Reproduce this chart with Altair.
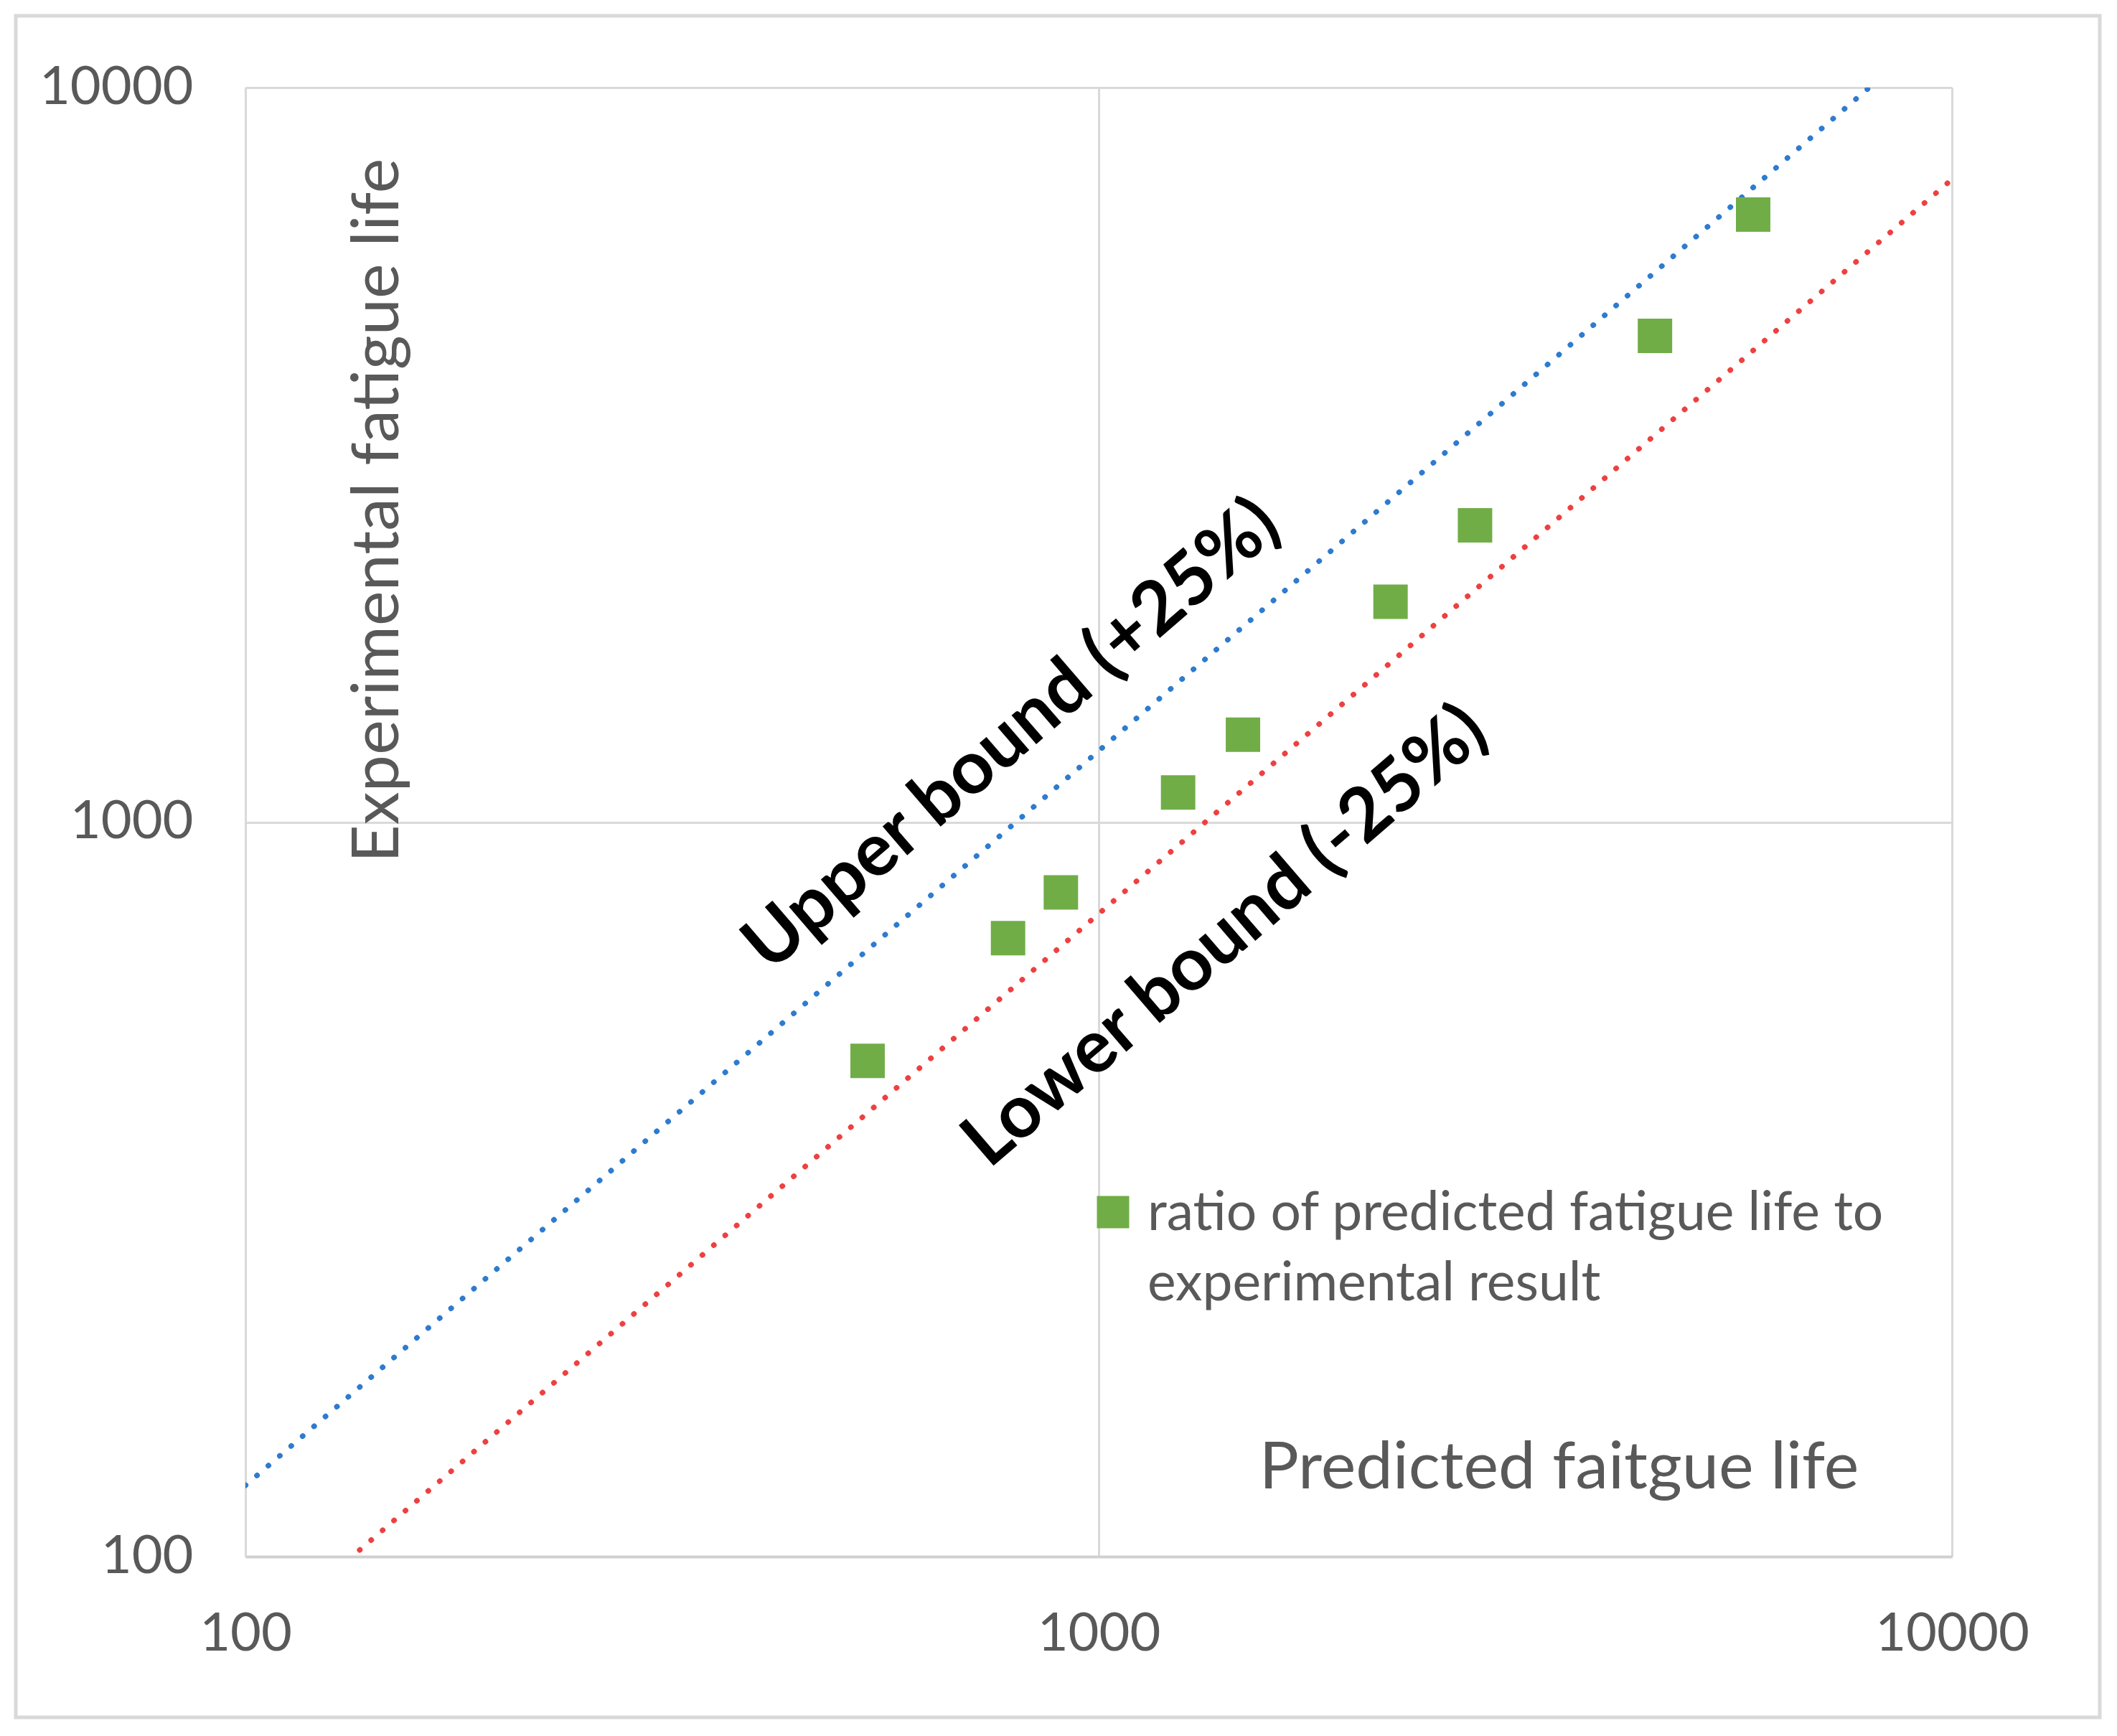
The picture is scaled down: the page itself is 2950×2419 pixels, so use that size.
import altair as alt
import pandas as pd

# ---- data ----
predicted = [536, 783, 903, 1239, 1476, 2198, 2761, 4487, 5848]
experimental = [473, 695, 802, 1097, 1315, 1995, 2535, 4592, 6714]
series_name = "ratio of predicted fatigue life to"
series_name_2 = "experimental result"

bound_x = [100, 10000]
bound_names = ["Upper bound (+25%)", "Lower bound (-25%)"]
bound_factors = [1.25, 0.75]
bound_colors = ["#2E7BCF", "#EE4040"]

label_x = [792, 1409]
label_y = [1312, 698]

axis_ticks = [100, 1000, 10000]

# ---- tables ----
pts = pd.DataFrame({"pred": predicted, "exp": experimental, "series": series_name})
lines = pd.DataFrame(
    [{"pred": x, "exp": x * f, "bound": n} for n, f in zip(bound_names, bound_factors) for x in bound_x]
)
labels = pd.DataFrame({"pred": label_x, "exp": label_y, "text": bound_names})

W, H = 2378, 2047
FONT = "Lato"
GRAY = "#595959"

xs = alt.Scale(type="log", domain=[100, 10000], nice=False)
ys = alt.Scale(type="log", domain=[100, 10000], nice=False)

x_axis = alt.Axis(values=axis_ticks, format="d", title="Predicted faitgue life",
                  titleX=1830, titleY=-124, titleAlign="center", titleBaseline="middle",
                  titleFontSize=92, titleFontWeight="normal", titleColor=GRAY, titleFont=FONT,
                  labelFontSize=74, labelColor=GRAY, labelFont=FONT, labelPadding=72,
                  labelFlush=False, labelLimit=0, labelOverlap=False,
                  ticks=False, domainColor="#D0D0D0", domainWidth=4,
                  gridColor="#D9D9D9", gridWidth=3)
y_axis = alt.Axis(values=axis_ticks, format="d", title="Experimental fatigue life",
                  titleX=184, titleY=589, titleAngle=270, titleAlign="center", titleBaseline="middle",
                  titleFontSize=92, titleFontWeight="normal", titleColor=GRAY, titleFont=FONT,
                  labelFontSize=74, labelColor=GRAY, labelFont=FONT, labelPadding=73,
                  labelFlush=False, labelLimit=0, labelOverlap=False,
                  ticks=False, domainColor="#D9D9D9", domainWidth=3,
                  gridColor="#D9D9D9", gridWidth=3)

base_x = alt.X("pred:Q", scale=xs, axis=x_axis)
base_y = alt.Y("exp:Q", scale=ys, axis=y_axis)

line_layer = alt.Chart(lines).mark_line(
    clip=True, strokeWidth=7.5, strokeDash=[0.5, 20.5], strokeCap="round"
).encode(
    x=base_x, y=base_y,
    color=alt.Color("bound:N", scale=alt.Scale(domain=bound_names, range=bound_colors), legend=None),
    detail="bound:N",
)

point_layer = alt.Chart(pts).mark_square(size=2300, color="#70AD47", opacity=1).encode(
    x=alt.X("pred:Q", scale=xs), y=alt.Y("exp:Q", scale=ys)
)

label_layer = alt.Chart(labels).mark_text(
    angle=319.3, align="center", baseline="middle", font=FONT, fontSize=103,
    fontWeight="bold", color="black"
).encode(x=alt.X("pred:Q", scale=xs), y=alt.Y("exp:Q", scale=ys), text="text:N")

# manual legend (layout only)
legend_df = pd.DataFrame({"series": [series_name]})
legend_sym = alt.Chart(legend_df).mark_square(size=2025, color="#70AD47", opacity=1).encode(
    x=alt.value(1209), y=alt.value(1567)
)
legend_txt = alt.Chart(legend_df).mark_text(
    align="left", baseline="alphabetic", font=FONT, fontSize=75, color=GRAY, lineHeight=98
).encode(x=alt.value(1257), y=alt.value(1592), text=alt.value([series_name, series_name_2]))

# outer chart-area border
border = alt.Chart(legend_df).mark_rect(fill=None, stroke="#D9D9D9", strokeWidth=5, filled=False).encode(
    x=alt.value(-320), x2=alt.value(2584), y=alt.value(-100), y2=alt.value(2271)
)

chart = alt.layer(border, line_layer, point_layer, label_layer, legend_sym, legend_txt).properties(
    width=W, height=H,
    autosize=alt.AutoSizeParams(type="none"),
    padding={"left": 334, "top": 114, "right": 222, "bottom": 242},
).configure_view(stroke=None).configure(background="white")

chart.save("out.html", embed_options={"renderer": "svg", "actions": False})
